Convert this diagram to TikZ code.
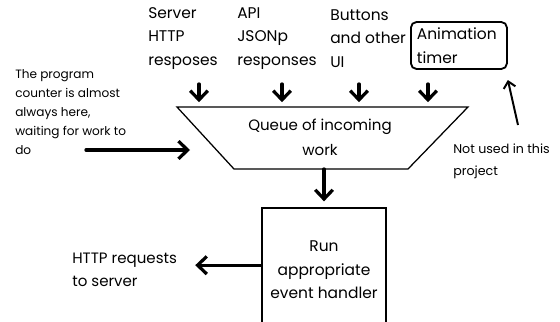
\documentclass[tikz,border=0pt]{standalone}
\usepackage{fontspec}
\setmainfont{Poppins}
\usetikzlibrary{arrows.meta, calc}
\tikzset{>={Straight Barb[length=2.3mm,width=4.4mm]}}
\tikzset{fat/.style={->, line width=2.3pt, line cap=round}}
\def \lblfont {\fontsize{11}{16.8}\selectfont}
\def \smallfont {\fontsize{8.6}{13.5}\selectfont}
\def \notefont {\fontsize{9}{15.6}\selectfont}

\begin{document}
\begin{tikzpicture}[x=0.025cm, y=-0.025cm]
\useasboundingbox (0,0) rectangle (560,322);
\clip (0,0) rectangle (560,322);

% queue of incoming work (upside down trapezoid)
\coordinate (q_tl) at (177,107);
\coordinate (q_tr) at (468,107);
\coordinate (q_br) at (408,169);
\coordinate (q_bl) at (234,169);
\draw[line width=0.9pt] (q_tl) -- (q_tr) -- (q_br) -- (q_bl) -- cycle;
\node (queue) [align=center, font=\fontsize{10.7}{17.5}\selectfont] at (320,137.5) {Queue of incoming\\work};

% event sources on top
\node (server) [anchor=west, align=left, inner sep=0, font=\lblfont] at (148,38.5) {Server\\HTTP\\resposes};
\node (api) [anchor=west, align=left, inner sep=0, font=\lblfont] at (237,38.5) {API\\JSONp\\responses};
\node (buttons) [anchor=west, align=left, inner sep=0, font=\lblfont] at (330,38.5) {Buttons\\and other\\UI};
\node (timer) [draw, line width=1.3pt, rounded corners=4pt, anchor=west, align=left, text width=2.1cm, inner xsep=0.15cm, minimum height=1.175cm, font=\lblfont] at (410,45.5) {Animation\\timer};

\coordinate (in_server) at (199,84);
\coordinate (in_api) at (282,84);
\coordinate (in_buttons) at (359,84);
\coordinate (in_timer) at (428,84);

\draw[fat, shorten >=0.12cm] (in_server) -- (in_server |- q_tl);
\draw[fat, shorten >=0.12cm] (in_api) -- (in_api |- q_tl);
\draw[fat, shorten >=0.12cm] (in_buttons) -- (in_buttons |- q_tl);
\draw[fat, shorten >=0.12cm] (in_timer) -- (in_timer |- q_tl);

% program counter
\node (pc) [anchor=west, align=left, inner sep=0, font=\smallfont] at (15,112.5) {The program\\counter is almost\\always here,\\waiting for work to\\do};
\coordinate (pc_from) at (86,150);
\coordinate (pc_to) at (190,150);
\draw[fat] (pc_from) -- (pc_to);

% note on the timer
\node (notused) [anchor=west, align=left, inner sep=0, font=\notefont] at (453,161) {Not used in this\\project};
\coordinate (note_from) at (518,125);
\draw[->, line width=1.4pt, >={Straight Barb[length=1.6mm,width=3mm]}] (note_from) -- (timer.south east |- 0,80) ;

% handler box
\node (handler) [draw, line width=0.9pt, minimum width=3.1cm, minimum height=3.1cm, align=center, font=\lblfont] at (324,270) {Run\\appropriate\\event handler};
\draw[fat, shorten >=0.15cm] (handler.north |- q_bl) -- (handler.north);

% outgoing requests
\node (http) [anchor=west, align=left, inner sep=0, font=\fontsize{10.7}{16.5}\selectfont] at (72,269.5) {HTTP requests\\to server};
\draw[fat] ([yshift=0.12cm]handler.west) -- ([yshift=0.12cm, xshift=0.45cm]handler.west -| http.east);

\end{tikzpicture}
\end{document}
